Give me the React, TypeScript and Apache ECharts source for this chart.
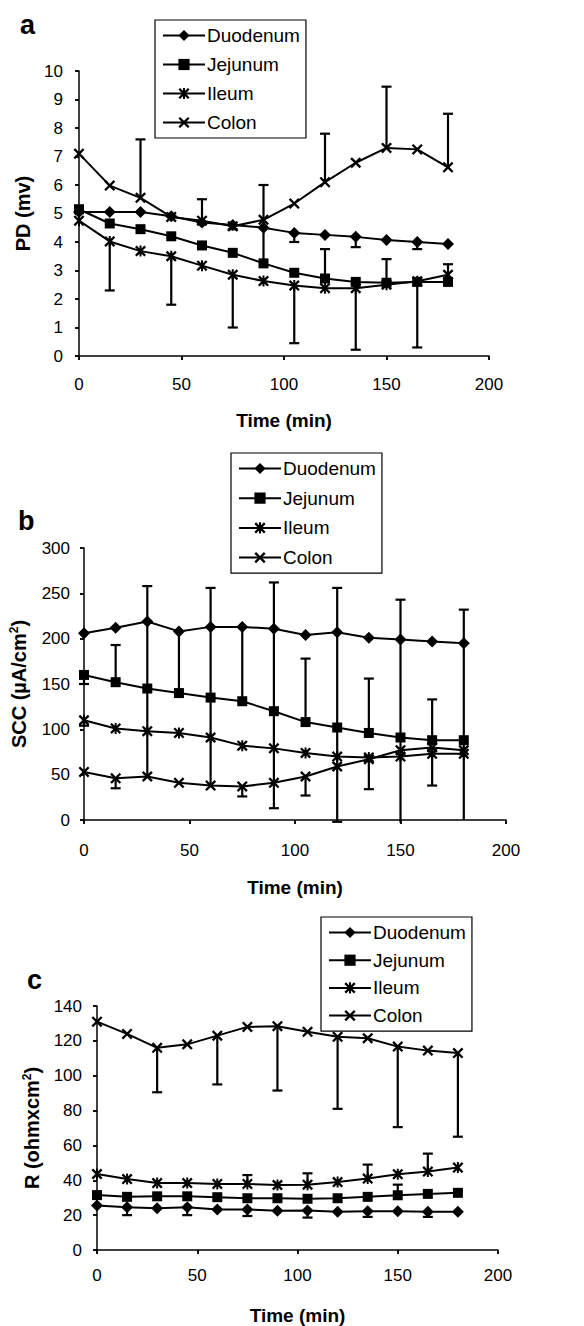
import React, { useEffect, useRef } from "react";
import * as echarts from "echarts";

const TIMES = [0, 15, 30, 45, 60, 75, 90, 105, 120, 135, 150, 165, 180];
const NAMES = ["Duodenum", "Jejunum", "Ileum", "Colon"];

// Panel a: PD (mv)
const duoA = [5.05, 5.05, 5.05, 4.9, 4.68, 4.6, 4.5, 4.32, 4.25, 4.18, 4.07, 4.0, 3.93];
const jejA = [5.15, 4.65, 4.45, 4.2, 3.88, 3.62, 3.25, 2.92, 2.72, 2.6, 2.57, 2.6, 2.6];
const ileA = [4.75, 4.02, 3.68, 3.5, 3.17, 2.85, 2.63, 2.47, 2.38, 2.38, 2.5, 2.62, 2.85];
const colA = [7.1, 5.98, 5.55, 4.88, 4.75, 4.55, 4.78, 5.35, 6.1, 6.78, 7.3, 7.25, 6.62];
// error bars: [time, from, to, cap]
const errA = [
  [30, 5.55, 7.6, 1], [60, 4.75, 5.5, 1], [120, 6.1, 7.8, 1], [150, 7.3, 9.45, 1], [180, 6.62, 8.5, 1],
  [90, 3.25, 6.0, 1], [120, 2.72, 3.75, 1], [150, 2.57, 3.4, 1],
  [75, 4.6, 4.45, 1], [105, 4.32, 4.0, 1], [135, 4.18, 3.82, 1], [165, 4.0, 3.75, 1],
  [15, 4.02, 2.3, 1], [45, 3.5, 1.8, 1], [75, 2.85, 1.0, 1], [105, 2.47, 0.45, 1],
  [135, 2.38, 0.22, 1], [165, 2.62, 0.3, 1], [180, 2.85, 3.22, 1],
];

// Panel b: SCC (µA/cm2)
const duoB = [206, 212, 219, 208, 213, 213, 211, 204, 207, 201, 199, 197, 195];
const jejB = [160, 152, 145, 140, 135, 131, 120, 108, 102, 96, 91, 88, 88];
const ileB = [110, 101, 98, 96, 91, 82, 79, 74, 70, 69, 70, 73, 73];
const colB = [53, 46, 48, 41, 38, 37, 41, 48, 59, 67, 77, 80, 77];
const errB = [
  [30, 219, 258, 1], [60, 213, 256, 1], [90, 211, 262, 1], [120, 207, 256, 1], [150, 199, 243, 1], [180, 195, 232, 1],
  [45, 208, 142, 0], [75, 213, 133, 0], [30, 219, 48, 0], [60, 213, 38, 0],
  [90, 211, 13, 1], [120, 207, -2, 1], [150, 199, -3, 0], [180, 195, 0, 0],
  [15, 152, 193, 1], [105, 108, 178, 1], [135, 96, 156, 1], [165, 88, 133, 1], [0, 160, 150, 1],
  [0, 110, 104, 1],
  [15, 46, 35, 1], [75, 37, 26, 1], [105, 48, 27, 1], [135, 67, 34, 1], [165, 77, 38, 1],
];

// Panel c: R (ohm x cm2)
const duoC = [25.5, 24.5, 24, 24.5, 23.3, 23.3, 22.5, 22.7, 22, 22.2, 22.2, 22, 22];
const jejC = [31.5, 30.5, 30.8, 30.8, 30.3, 29.7, 29.7, 29.4, 29.7, 30.5, 31.4, 32.2, 32.8];
const ileC = [43.6, 40.7, 38.4, 38.4, 37.9, 37.9, 37.3, 37.5, 39, 41, 43.5, 45, 47.3];
const colC = [131, 124, 116, 118, 123, 128, 128.4, 125.2, 122.3, 121.5, 116.7, 114.4, 113];
const errC = [
  [30, 116, 90.5, 1], [60, 123, 95, 1], [90, 128.4, 91.5, 1], [120, 122.3, 81, 1], [150, 116.7, 70.5, 1], [180, 113, 65, 1],
  [75, 37.9, 43, 1], [105, 37.5, 44, 1], [135, 41, 49, 1], [165, 45, 55.3, 1],
  [150, 31.4, 37.5, 1],
  [15, 24.5, 20, 1], [45, 24.5, 20, 1], [75, 23.3, 19.5, 1], [105, 22.7, 18.6, 1], [135, 22.2, 19, 1], [165, 22, 19, 1],
];

const FONT = "'Liberation Sans', Arial, Helvetica, sans-serif";

const X_PATH =
  "path://M0,1.5L1.5,0L5,3.5L8.5,0L10,1.5L6.5,5L10,8.5L8.5,10L5,6.5L1.5,10L0,8.5L3.5,5Z";
const STAR_PATH =
  "path://M0,1.5L1.5,0L5,3.5L8.5,0L10,1.5L6.5,5L10,8.5L8.5,10L5,6.5L1.5,10L0,8.5L3.5,5ZM4.1,0L5.9,0L5.9,10L4.1,10Z";

const SYMBOLS: [string, number][] = [
  ["diamond", 12],
  ["rect", 10],
  [STAR_PATH, 11],
  [X_PATH, 11],
];

const PANELS = [
  {
    grid: { left: 79, top: 71, width: 410, height: 285 },
    yMax: 10, yInt: 1, series: [duoA, jejA, ileA, colA], errs: errA,
    yName: "PD (mv)", yGap: 44, yLabMargin: 16, xLabMargin: 20, xNameGap: 55,
    legend: { left: 155, top: 20, gap: 10 },
  },
  {
    grid: { left: 83, top: 548, width: 423, height: 272 },
    yMax: 300, yInt: 50, series: [duoB, jejB, ileB, colB], errs: errB,
    yName: "{a|SCC (µA/cm}{s|2}{a|)}", yGap: 54, yLabMargin: 14, xLabMargin: 22, xNameGap: 58,
    legend: { left: 231, top: 453, gap: 10.7 },
  },
  {
    grid: { left: 97, top: 1006, width: 401, height: 246 },
    yMax: 140, yInt: 20, series: [duoC, jejC, ileC, colC], errs: errC,
    yName: "{a|R (ohmxcm}{s|2}{a|)}", yGap: 54, yLabMargin: 15, xLabMargin: 17, xNameGap: 56,
    legend: { left: 321, top: 917, gap: 8.7 },
  },
];

function errRender(params: any, api: any) {
  const t = api.value(0);
  const a = api.value(1);
  const b = api.value(2);
  const cap = api.value(3);
  const p1 = api.coord([t, a]);
  const p2 = api.coord([t, b]);
  const st = { stroke: "#000", lineWidth: 2.2 };
  const children: any[] = [
    { type: "line", shape: { x1: p1[0], y1: p1[1], x2: p2[0], y2: p2[1] }, style: st },
  ];
  if (cap) {
    children.push({
      type: "line",
      shape: { x1: p2[0] - 5, y1: p2[1], x2: p2[0] + 5, y2: p2[1] },
      style: st,
    });
  }
  return { type: "group", children };
}

export default function App() {
  const ref = useRef<HTMLDivElement>(null);
  useEffect(() => {
    if (!ref.current) return;
    const chart = echarts.init(ref.current, null, { renderer: "svg" });
    const grids: any[] = [];
    const xAxes: any[] = [];
    const yAxes: any[] = [];
    const series: any[] = [];
    const legends: any[] = [];
    const axisLine = { show: true, lineStyle: { color: "#000", width: 1.5 } };
    const richName = {
      a: { fontSize: 20, fontWeight: "bold", fontFamily: FONT, color: "#000" },
      s: { fontSize: 12, fontWeight: "bold", fontFamily: FONT, color: "#000", padding: [0, 0, 10, 0] },
    };
    PANELS.forEach((p, k) => {
      grids.push({ ...p.grid, containLabel: false });
      const xi = xAxes.length;
      xAxes.push({
        type: "value", gridIndex: k, min: 0, max: 200, interval: 50,
        axisLine, splitLine: { show: false },
        axisTick: { show: true, inside: false, length: 4, lineStyle: { color: "#000", width: 1.5 } },
        axisLabel: { margin: p.xLabMargin, fontSize: 17, color: "#000", fontFamily: FONT },
        name: "Time (min)", nameLocation: "middle", nameGap: p.xNameGap,
        nameTextStyle: { fontSize: 19, fontWeight: "bold", color: "#000", fontFamily: FONT },
      });
      xAxes.push({
        type: "value", gridIndex: k, min: 0, max: 200, interval: 50,
        axisLine: { show: false }, splitLine: { show: false },
        axisTick: { show: true, inside: true, length: 4, lineStyle: { color: "#000", width: 1.5 } },
        axisLabel: { show: false },
      });
      const yi = yAxes.length;
      yAxes.push({
        type: "value", gridIndex: k, min: 0, max: p.yMax, interval: p.yInt,
        axisLine, splitLine: { show: false },
        axisTick: { show: true, inside: false, length: 4, lineStyle: { color: "#000", width: 1.5 } },
        axisLabel: { margin: p.yLabMargin, fontSize: 17, color: "#000", fontFamily: FONT },
        name: p.yName, nameLocation: "middle", nameRotate: 90, nameGap: p.yGap,
        nameTextStyle: { fontSize: 20, fontWeight: "bold", color: "#000", fontFamily: FONT, rich: richName },
      });
      yAxes.push({
        type: "value", gridIndex: k, min: 0, max: p.yMax, interval: p.yInt,
        axisLine: { show: false }, splitLine: { show: false },
        axisTick: { show: true, inside: true, length: 4, lineStyle: { color: "#000", width: 1.5 } },
        axisLabel: { show: false },
      });
      series.push({
        type: "custom", xAxisIndex: xi, yAxisIndex: yi, silent: true, z: 2,
        data: p.errs, renderItem: errRender, clip: false,
        encode: { x: 0, y: [1, 2] },
      });
      p.series.forEach((vals, si) => {
        series.push({
          type: "line", name: NAMES[si], xAxisIndex: xi, yAxisIndex: yi, z: 3,
          data: TIMES.map((t, i) => [t, vals[i]]),
          symbol: SYMBOLS[si][0], symbolSize: SYMBOLS[si][1],
          lineStyle: { color: "#000", width: 2 },
          itemStyle: { color: "#000" },
        });
      });
      legends.push({
        orient: "vertical", left: p.legend.left, top: p.legend.top,
        padding: [6, 6, 6, 7], borderColor: "#000", borderWidth: 1.2,
        itemWidth: 42, itemHeight: 14, itemGap: p.legend.gap,
        textStyle: { fontSize: 19, color: "#000", fontFamily: FONT, lineHeight: 17, padding: [0, 0, 0, -3] },
        data: NAMES, selectedMode: false,
      });
    });
    const letter = (txt: string, x: number, y: number) => ({
      type: "text", x, y,
      style: { text: txt, font: `bold 27px ${FONT}`, fill: "#000", verticalAlign: "top" },
    });
    chart.setOption({
      animation: false,
      backgroundColor: "#fff",
      grid: grids,
      xAxis: xAxes,
      yAxis: yAxes,
      legend: legends,
      series,
      graphic: [letter("a", 20, 11), letter("b", 18, 507), letter("c", 27, 966)],
    });
    return () => chart.dispose();
  }, []);
  return (
    <div
      ref={ref}
      style={{ position: "absolute", left: 0, top: 0, width: 584, height: 1326, background: "#fff" }}
    />
  );
}
